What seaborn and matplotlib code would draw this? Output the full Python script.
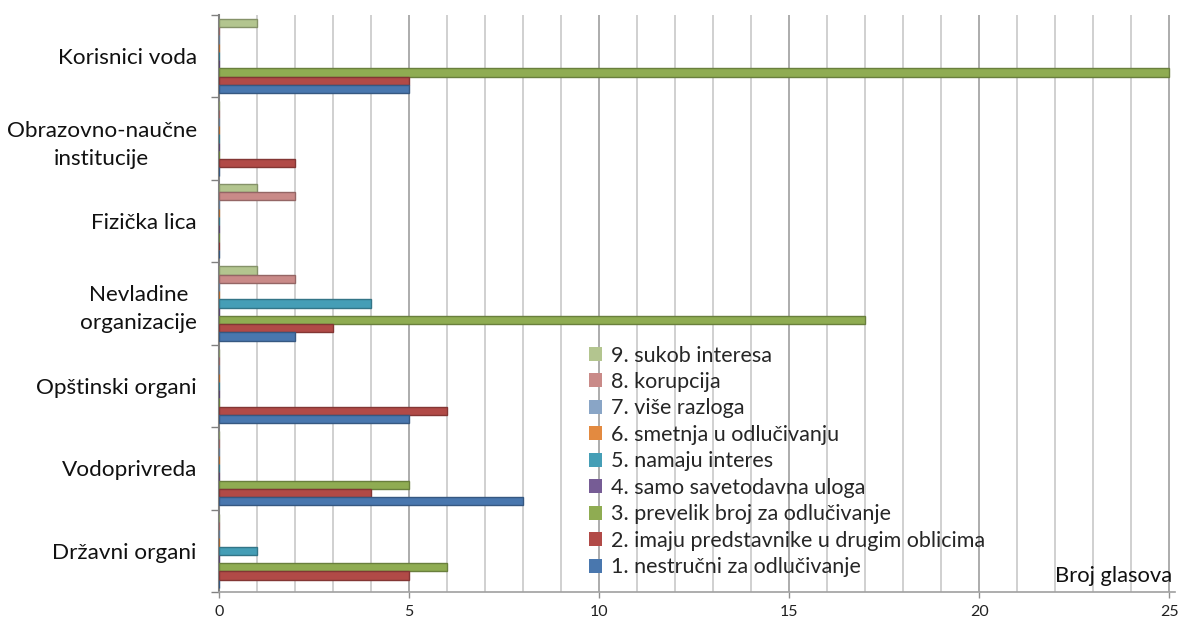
import numpy as np
import pandas as pd
import matplotlib
matplotlib.use("Agg")
import matplotlib.pyplot as plt
import matplotlib.colors as mcolors
from matplotlib.ticker import MultipleLocator, FixedLocator
import seaborn as sns

# Stakeholder groups (top to bottom)
categories = [
    "Korisnici voda",
    "Obrazovno-naučne\ninstitucije",
    "Fizička lica",
    "Nevladine\norganizacije",
    "Opštinski organi",
    "Vodoprivreda",
    "Državni organi",
]

# Reasons (series)
series = [
    "1. nestručni za odlučivanje",
    "2. imaju predstavnike u drugim oblicima",
    "3. prevelik broj za odlučivanje",
    "4. samo savetodavna uloga",
    "5. namaju interes",
    "6. smetnja u odlučivanju",
    "7. više razloga",
    "8. korupcija",
    "9. sukob interesa",
]

# Votes per reason, one list per series, in the order of `categories`
s1 = [5, 0, 0, 2, 5, 8, 0]
s2 = [5, 2, 0, 3, 6, 4, 5]
s3 = [25, 0, 0, 17, 0, 5, 6]
s4 = [0, 0, 0, 0, 0, 0, 0]
s5 = [0, 0, 0, 4, 0, 0, 1]
s6 = [0, 0, 0, 0, 0, 0, 0]
s7 = [0, 0, 0, 0, 0, 0, 0]
s8 = [0, 0, 2, 2, 0, 0, 0]
s9 = [1, 0, 1, 1, 0, 0, 0]

colors = ["#4F81BD", "#C0504D", "#9BBB59", "#8064A2", "#4BACC6",
          "#F79646", "#95B3D7", "#DA9694", "#C3D69B"]

values = [s1, s2, s3, s4, s5, s6, s7, s8, s9]
rows = []
for name, vals in zip(series, values):
    for cat, v in zip(categories, vals):
        rows.append({"grupa": cat, "razlog": name, "glasova": v})
df = pd.DataFrame(rows)

sns.set_theme(style="white")
plt.rcParams["font.family"] = ["Lato", "DejaVu Sans"]

fig = plt.figure(figsize=(11.86, 6.18), dpi=100)
ax = fig.add_axes([0.1847, 0.042, 0.806, 0.934])

hue_order = series[::-1]
palette = dict(zip(series, colors))
sns.barplot(data=df, x="glasova", y="grupa", hue="razlog", order=categories,
            hue_order=hue_order, palette=palette, orient="h", width=0.9,
            saturation=1, ax=ax, legend=True, zorder=3)

# slightly shaded faces and a darker outline for a raised look
for patch in ax.patches:
    fc = mcolors.to_rgb(patch.get_facecolor())
    patch.set_facecolor(tuple(c * 0.92 for c in fc))
    patch.set_edgecolor(tuple(c * 0.68 for c in fc))
    patch.set_linewidth(1.0)

ax.set_xlim(0, 25.15)
ax.set_ylim(len(categories) - 0.5, -0.5)
ax.xaxis.set_major_locator(FixedLocator([0, 5, 10, 15, 20, 25]))
ax.xaxis.set_minor_locator(MultipleLocator(1))
ax.grid(axis="x", which="major", color="#A6A6A6", linewidth=1.3, zorder=0)
ax.grid(axis="x", which="minor", color="#C8C8C8", linewidth=1.2, zorder=0)
ax.set_axisbelow(True)

# category separators on the y axis
ax.yaxis.set_minor_locator(FixedLocator(np.arange(-0.5, len(categories), 1.0)))
ax.tick_params(axis="y", which="major", length=0, pad=16, labelsize=16.2,
               labelcolor="#111111")
ax.tick_params(axis="y", which="minor", left=True, length=6, color="#808080",
               width=1)
ax.tick_params(axis="x", which="major", bottom=True, length=4, width=1,
               color="#909090", pad=5, labelsize=11.5, labelcolor="#222222")
ax.tick_params(axis="x", which="minor", length=0)
for lbl in ax.get_yticklabels():
    lbl.set_multialignment("center")
    lbl.set_linespacing(1.5)

for side in ["top", "right"]:
    ax.spines[side].set_visible(False)
ax.spines["left"].set_color("#808080")
ax.spines["left"].set_linewidth(1.5)
ax.spines["bottom"].set_color("#A0A0A0")
ax.spines["bottom"].set_linewidth(1.2)

ax.set_ylabel("")
ax.set_xlabel("Broj glasova", fontsize=15.8, color="#111111")
ax.xaxis.set_label_coords(0.997, 0.01)
ax.xaxis.label.set_horizontalalignment("right")
ax.xaxis.label.set_verticalalignment("bottom")

leg = ax.legend(loc="upper left", bbox_to_anchor=(0.378, 0.442), frameon=False,
                fontsize=15.5, handlelength=0.62, handleheight=0.62,
                handletextpad=0.4, labelspacing=0.3, borderaxespad=0)
for h in leg.legend_handles:
    h.set_edgecolor("none")

fig.savefig("out.png", dpi=100, facecolor="white")
